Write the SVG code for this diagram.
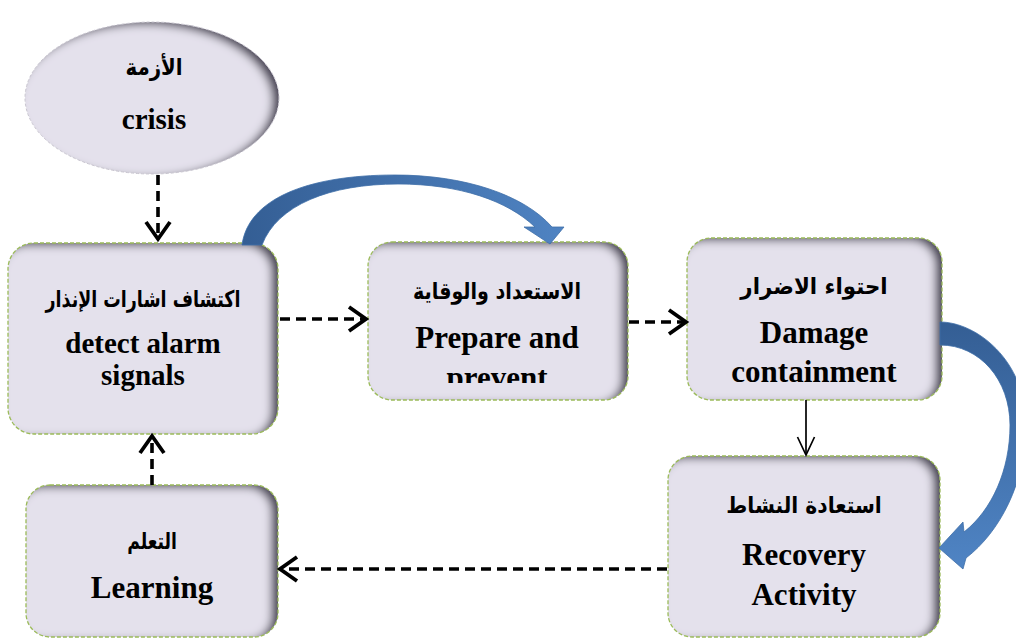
<svg xmlns="http://www.w3.org/2000/svg" width="1016" height="639" viewBox="0 0 1016 639">
  <style>
    .fill { fill: #e4e1ec; filter: url(#inset); }
    .edge { fill: none; stroke: #9bbb59; stroke-width: 1.3; stroke-dasharray: 4 2; }
    .oval-edge { fill: none; stroke: #c9c6d0; stroke-width: 1; stroke-dasharray: 3 2; }
    .en { font-family: "Liberation Serif", "Times New Roman", serif; font-weight: bold; font-size: 31px; fill: #000; text-anchor: middle; }
    .ar { font-family: "DejaVu Sans", sans-serif; font-weight: bold; font-size: 23px; fill: #000; text-anchor: middle; direction: rtl; }
    .dash { fill: none; stroke: #000; stroke-width: 3.6; stroke-dasharray: 10 6; }
    .solid { fill: none; stroke: #000; stroke-width: 1.7; }
    .bend { stroke: #3f6ea8; stroke-width: 0.8; }
  </style>
  <defs>
    <!-- inner shadow on the right and top edges of each shape -->
    <filter id="inset" x="-10%" y="-10%" width="120%" height="120%">
      <feFlood flood-color="#4a4556" result="c"/>
      <feComposite in="c" in2="SourceAlpha" operator="out" result="outside"/>
      <feOffset in="outside" dx="-7" dy="3" result="moved"/>
      <feGaussianBlur in="moved" stdDeviation="4" result="soft"/>
      <feComposite in="soft" in2="SourceAlpha" operator="in" result="shade"/>
      <feMerge>
        <feMergeNode in="SourceGraphic"/>
        <feMergeNode in="shade"/>
      </feMerge>
    </filter>
    <linearGradient id="blueTop" x1="242" y1="245" x2="563" y2="230" gradientUnits="userSpaceOnUse">
      <stop offset="0" stop-color="#345e94"/>
      <stop offset="1" stop-color="#4f83c2"/>
    </linearGradient>
    <linearGradient id="blueRight" x1="940" y1="322" x2="945" y2="568" gradientUnits="userSpaceOnUse">
      <stop offset="0" stop-color="#345e94"/>
      <stop offset="1" stop-color="#4f84c4"/>
    </linearGradient>
    <marker id="chev" markerWidth="26" markerHeight="30" refX="21" refY="15" orient="auto" markerUnits="userSpaceOnUse">
      <path d="M4,3 L21,15 L4,27" fill="none" stroke="#000" stroke-width="3.8"/>
    </marker>
    <marker id="chevThin" markerWidth="24" markerHeight="20" refX="20" refY="10" orient="auto" markerUnits="userSpaceOnUse">
      <path d="M2,1.5 L20,10 L2,18.5" fill="none" stroke="#000" stroke-width="1.7"/>
    </marker>
    <clipPath id="clipPrepare">
      <rect x="368" y="242" width="260" height="141"/>
    </clipPath>
  </defs>

  <rect width="1016" height="639" fill="#ffffff"/>

  <g id="crisis">
    <ellipse class="fill" cx="152" cy="98" rx="127" ry="76"/>
    <ellipse class="oval-edge" cx="152" cy="98" rx="127" ry="76"/>
    <text class="ar" transform="translate(154,75) scale(0.86,1)">الأزمة</text>
    <text class="en" x="154" y="129" style="font-size:29px">crisis</text>
  </g>

  <g id="detect">
    <rect class="fill" x="8" y="243" width="270" height="191" rx="26"/>
    <rect class="edge" x="8" y="243" width="270" height="191" rx="26"/>
    <text class="ar" transform="translate(143,307) scale(0.76,1)">اكتشاف اشارات الإنذار</text>
    <text class="en" x="143" y="353" style="font-size:29px">detect alarm</text>
    <text class="en" x="143" y="385" style="font-size:29px">signals</text>
  </g>

  <g id="prepare">
    <rect class="fill" x="368" y="242" width="260" height="158" rx="24"/>
    <rect class="edge" x="368" y="242" width="260" height="158" rx="24"/>
    <text class="ar" transform="translate(497,299) scale(0.83,1)">الاستعداد والوقاية</text>
    <g clip-path="url(#clipPrepare)">
      <text class="en" x="497" y="348">Prepare and</text>
      <text class="en" x="497" y="388">prevent</text>
    </g>
  </g>

  <g id="damage">
    <rect class="fill" x="687" y="238" width="255" height="162" rx="24"/>
    <rect class="edge" x="687" y="238" width="255" height="162" rx="24"/>
    <text class="ar" transform="translate(814,294) scale(0.93,1)">احتواء الاضرار</text>
    <text class="en" x="814" y="343">Damage</text>
    <text class="en" x="814" y="382">containment</text>
  </g>

  <g id="recovery">
    <rect class="fill" x="668" y="456" width="272" height="181" rx="24"/>
    <rect class="edge" x="668" y="456" width="272" height="181" rx="24"/>
    <text class="ar" transform="translate(804,513) scale(0.88,1)">استعادة النشاط</text>
    <text class="en" x="804" y="565">Recovery</text>
    <text class="en" x="804" y="605">Activity</text>
  </g>

  <g id="learning">
    <rect class="fill" x="26" y="485" width="252" height="152" rx="24"/>
    <rect class="edge" x="26" y="485" width="252" height="152" rx="24"/>
    <text class="ar" transform="translate(152,549) scale(0.75,1)">التعلم</text>
    <text class="en" x="152" y="598">Learning</text>
  </g>

  <g id="connectors">
    <!-- dashed flow arrows -->
    <line class="dash" x1="158" y1="175" x2="158" y2="239" marker-end="url(#chev)"/>
    <line class="dash" x1="280" y1="319" x2="366" y2="319" marker-end="url(#chev)"/>
    <line class="dash" x1="629" y1="322" x2="686" y2="322" marker-end="url(#chev)"/>
    <line class="dash" x1="667" y1="569" x2="280" y2="569" marker-end="url(#chev)"/>
    <line class="dash" x1="152" y1="485" x2="152" y2="436" marker-end="url(#chev)"/>
    <!-- solid arrow from damage containment to recovery -->
    <line class="solid" x1="806" y1="400" x2="806" y2="455" marker-end="url(#chevThin)"/>
    <!-- curved block arrows -->
    <path class="bend" fill="url(#blueTop)" d="M242,245 C248,200 305,175 395,175 C465,175 524,195 552,227 L564,227 L550,244 L524,227 L535,227 C508,201 460,184 398,184 C330,184 277,205 262,245 Z"/>
    <path class="bend" fill="url(#blueRight)" d="M940,322 C976,322 1026,360 1026,425 C1026,482 1000,532 966,558 L963,569 L939,548 L963,522 L964,532 C992,510 1010,470 1010,425 C1010,380 980,345 940,345 Z"/>
  </g>
</svg>
